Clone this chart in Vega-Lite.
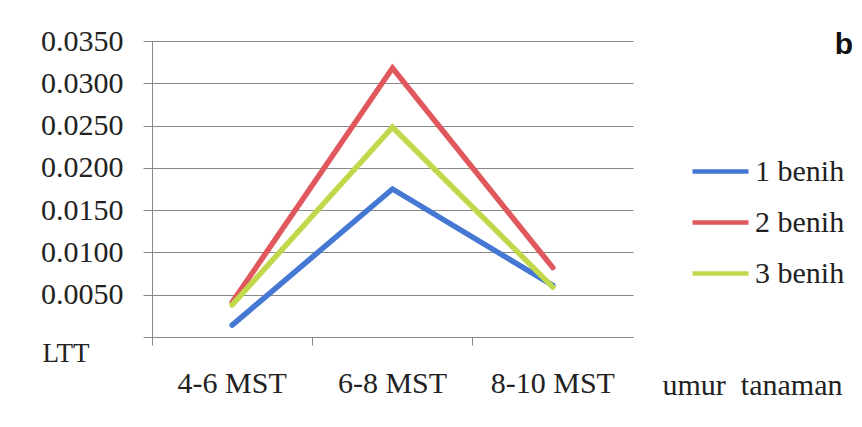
{
  "$schema": "https://vega.github.io/schema/vega-lite/v6.json",
  "width": 481,
  "height": 296,
  "autosize": {"type": "none"},
  "padding": {"left": 152, "top": 41, "right": 229, "bottom": 90},
  "background": "white",
  "title": {"text": "b", "anchor": "end", "frame": "group", "font": "Liberation Sans", "fontWeight": "bold", "fontSize": 30, "color": "#111", "offset": 0, "dx": 220, "dy": 58, "baseline": "alphabetic"},
  "data": {"values": [
    {"umur": "4-6 MST", "perlakuan": "1 benih", "ltt": 0.0014},
    {"umur": "6-8 MST", "perlakuan": "1 benih", "ltt": 0.0175},
    {"umur": "8-10 MST", "perlakuan": "1 benih", "ltt": 0.0061},
    {"umur": "4-6 MST", "perlakuan": "2 benih", "ltt": 0.0041},
    {"umur": "6-8 MST", "perlakuan": "2 benih", "ltt": 0.0318},
    {"umur": "8-10 MST", "perlakuan": "2 benih", "ltt": 0.0082},
    {"umur": "4-6 MST", "perlakuan": "3 benih", "ltt": 0.0038},
    {"umur": "6-8 MST", "perlakuan": "3 benih", "ltt": 0.0248},
    {"umur": "8-10 MST", "perlakuan": "3 benih", "ltt": 0.0059}
  ]},
  "mark": {"type": "line", "strokeWidth": 5.5, "strokeCap": "round", "strokeJoin": "miter"},
  "encoding": {
    "x": {
      "field": "umur", "type": "nominal", "sort": ["4-6 MST", "6-8 MST", "8-10 MST"],
      "scale": {"type": "band", "paddingInner": 0, "paddingOuter": 0},
      "axis": {
        "title": "umur\u00a0\u00a0tanaman", "titleFont": "Liberation Serif", "titleFontSize": 30, "titleFontWeight": "normal", "titleColor": "#222",
        "titleX": 600, "titleY": 48, "titleAlign": "center", "titleBaseline": "middle", "titleAngle": 0,
        "labelAngle": 0, "labelFont": "Liberation Serif", "labelFontSize": 30, "labelColor": "#222",
        "labelBaseline": "middle", "labelPadding": 38, "bandPosition": 0,
        "tickSize": 8, "tickColor": "#888", "domainColor": "#888", "grid": false
      }
    },
    "y": {
      "field": "ltt", "type": "quantitative",
      "scale": {"domain": [0, 0.035], "nice": false},
      "axis": {
        "values": [0, 0.005, 0.01, 0.015, 0.02, 0.025, 0.03, 0.035],
        "labelExpr": "datum.value == 0 ? '' : format(datum.value, '.4f')",
        "labelFont": "Liberation Serif", "labelFontSize": 30, "labelColor": "#222", "labelPadding": 20,
        "tickSize": 9, "tickColor": "#888", "domainColor": "#888", "grid": true, "gridColor": "#888", "gridWidth": 1,
        "title": "LTT", "titleFont": "Liberation Serif", "titleFontSize": 27, "titleFontWeight": "normal", "titleColor": "#222",
        "titleAngle": 0, "titleX": -110, "titleY": 312, "titleAlign": "left", "titleBaseline": "middle"
      }
    },
    "color": {
      "field": "perlakuan", "type": "nominal",
      "scale": {"domain": ["1 benih", "2 benih", "3 benih"], "range": ["#4478d2", "#e0585d", "#c2d84c"]},
      "legend": {
        "title": null, "orient": "none", "legendX": 538, "legendY": 100,
        "symbolType": "stroke", "symbolSize": 3136, "symbolStrokeWidth": 4.5,
        "labelFont": "Liberation Serif", "labelFontSize": 30, "labelColor": "#222", "labelOffset": 4,
        "rowPadding": 5
      }
    }
  },
  "config": {
    "font": "Liberation Serif",
    "view": {"stroke": null},
    "axis": {"labelFont": "Liberation Serif", "titleFont": "Liberation Serif"},
    "legend": {"labelFont": "Liberation Serif"}
  }
}
